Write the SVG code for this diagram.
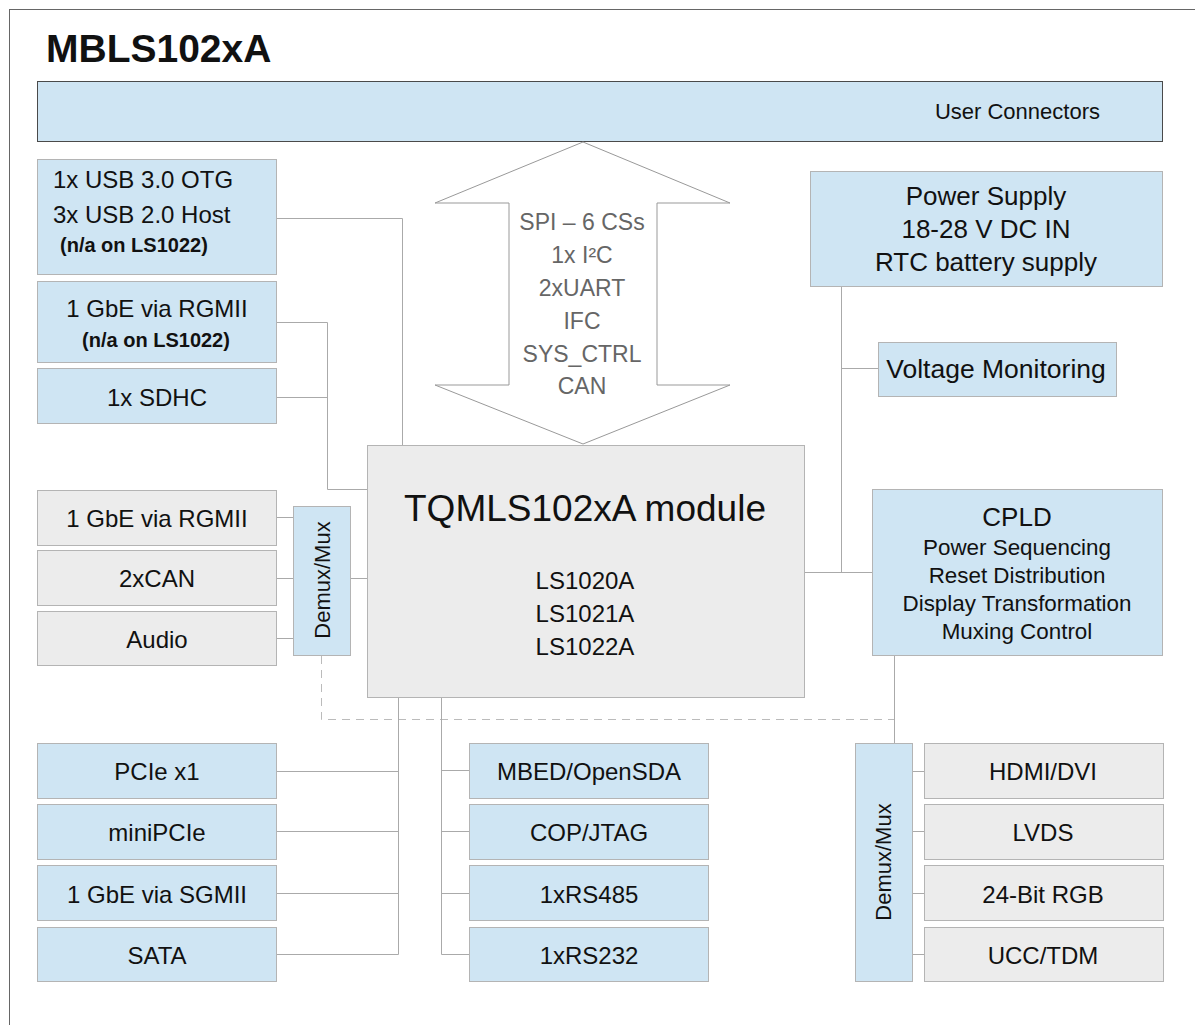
<svg xmlns="http://www.w3.org/2000/svg" width="1195" height="1025" viewBox="0 0 1195 1025">
<style>
.blue{fill:#cfe5f3;stroke:#b4b4b4;stroke-width:1}
.gray{fill:#ececec;stroke:#b4b4b4;stroke-width:1}
.t{font-family:"Liberation Sans",Arial,sans-serif;font-size:24px;fill:#111;text-anchor:middle}
.ln{fill:none;stroke:#aaa;stroke-width:1}
.dash{fill:none;stroke:#bbb;stroke-width:1;stroke-dasharray:8,6}
</style>
<rect x="9.5" y="9.5" width="1200" height="1040" fill="#fff" stroke="#666" stroke-width="1"/>
<text x="46" y="62" style="font-family:'Liberation Sans',Arial,sans-serif;font-size:39px;font-weight:bold;fill:#111">MBLS102xA</text>

<g id="connectors">
<path class="ln" d="M277,218.5 H402.5 V445"/>
<path class="ln" d="M277,322.5 H327.5 V489.5 H367"/>
<path class="ln" d="M277,397.5 H327.5"/>
<path class="ln" d="M277,517.5 H293 M277,578.5 H293 M277,638.5 H293 M350,578.5 H367"/>
<path class="dash" d="M321.5,656 V719.5 H894.5"/>
<path class="ln" d="M804,572.5 H872"/>
<path class="ln" d="M841.5,286 V572.5 M841.5,368.5 H878"/>
<path class="ln" d="M894.5,655 V743"/>
<path class="ln" d="M912,771.5 H924 M912,831.5 H924 M912,893.5 H924 M912,954.5 H924"/>
<path class="ln" d="M398.5,698 V954.5 M277,771.5 H398.5 M277,831.5 H398.5 M277,893.5 H398.5 M277,954.5 H398.5"/>
<path class="ln" d="M441.5,698 V954.5 H469 M441.5,770.5 H469 M441.5,831.5 H469 M441.5,893.5 H469"/>
</g>

<g id="user-connectors">
<rect x="37.5" y="81.5" width="1125" height="60" fill="#cfe5f3" stroke="#4a4a4a"/>
<text class="t" x="1100" y="119" style="text-anchor:end;font-size:22px">User Connectors</text>
</g>

<g id="bus-arrow">
<polygon points="583,142 730,203 657,203 657,385 730,385 583,444 435,385 509,385 509,203 435,203" fill="#fff" stroke="#999"/>
<g class="t" style="fill:#666;font-size:23px">
<text x="582" y="230">SPI – 6 CSs</text>
<text x="582" y="263">1x I²C</text>
<text x="582" y="296">2xUART</text>
<text x="582" y="329">IFC</text>
<text x="582" y="362">SYS_CTRL</text>
<text x="582" y="394">CAN</text>
</g>
</g>

<g id="usb">
<rect class="blue" x="37.5" y="159.5" width="239" height="115"/>
<text class="t" x="53" y="188" style="text-anchor:start">1x USB 3.0 OTG</text>
<text class="t" x="53" y="223" style="text-anchor:start">3x USB 2.0 Host</text>
<text class="t" x="60" y="252" style="text-anchor:start;font-size:20px;font-weight:bold">(n/a on LS1022)</text>
</g>
<g id="rgmii1">
<rect class="blue" x="37.5" y="281.5" width="239" height="81"/>
<text class="t" x="157" y="317">1 GbE via RGMII</text>
<text class="t" x="156" y="347" style="font-size:20px;font-weight:bold">(n/a on LS1022)</text>
</g>
<g id="sdhc">
<rect class="blue" x="37.5" y="368.5" width="239" height="55"/>
<text class="t" x="157" y="406">1x SDHC</text>
</g>

<g id="rgmii2">
<rect class="gray" x="37.5" y="490.5" width="239" height="55"/>
<text class="t" x="157" y="527">1 GbE via RGMII</text>
</g>
<g id="can">
<rect class="gray" x="37.5" y="550.5" width="239" height="55"/>
<text class="t" x="157" y="587">2xCAN</text>
</g>
<g id="audio">
<rect class="gray" x="37.5" y="611.5" width="239" height="54"/>
<text class="t" x="157" y="648">Audio</text>
</g>
<g id="demux-left">
<rect class="blue" x="293.5" y="506.5" width="57" height="149"/>
<text class="t" x="322" y="580" transform="rotate(-90 322 580)" dy="8" style="font-size:22px">Demux/Mux</text>
</g>

<g id="module">
<rect class="gray" x="367.5" y="445.5" width="437" height="252"/>
<text class="t" x="585" y="521" style="font-size:37px">TQMLS102xA module</text>
<text class="t" x="585" y="589">LS1020A</text>
<text class="t" x="585" y="622">LS1021A</text>
<text class="t" x="585" y="655">LS1022A</text>
</g>

<g id="power">
<rect class="blue" x="810.5" y="171.5" width="352" height="115"/>
<text class="t" x="986" y="205" style="font-size:26px">Power Supply</text>
<text class="t" x="986" y="238" style="font-size:26px">18-28 V DC IN</text>
<text class="t" x="986" y="271" style="font-size:26px">RTC battery supply</text>
</g>
<g id="voltage">
<rect class="blue" x="878.5" y="342.5" width="238" height="54"/>
<text class="t" x="996" y="378" style="font-size:26.5px">Voltage Monitoring</text>
</g>
<g id="cpld">
<rect class="blue" x="872.5" y="489.5" width="290" height="166"/>
<text class="t" x="1017" y="526" style="font-size:26px">CPLD</text>
<g class="t" style="font-size:22.4px">
<text x="1017" y="555">Power Sequencing</text>
<text x="1017" y="583">Reset Distribution</text>
<text x="1017" y="611">Display Transformation</text>
<text x="1017" y="639">Muxing Control</text>
</g>
</g>

<g id="pcie">
<rect class="blue" x="37.5" y="743.5" width="239" height="55"/>
<text class="t" x="157" y="780">PCIe x1</text>
</g>
<g id="minipcie">
<rect class="blue" x="37.5" y="804.5" width="239" height="55"/>
<text class="t" x="157" y="841">miniPCIe</text>
</g>
<g id="sgmii">
<rect class="blue" x="37.5" y="865.5" width="239" height="55"/>
<text class="t" x="157" y="903">1 GbE via SGMII</text>
</g>
<g id="sata">
<rect class="blue" x="37.5" y="927.5" width="239" height="54"/>
<text class="t" x="157" y="964">SATA</text>
</g>

<g id="mbed">
<rect class="blue" x="469.5" y="743.5" width="239" height="55"/>
<text class="t" x="589" y="780">MBED/OpenSDA</text>
</g>
<g id="cop">
<rect class="blue" x="469.5" y="804.5" width="239" height="55"/>
<text class="t" x="589" y="841">COP/JTAG</text>
</g>
<g id="rs485">
<rect class="blue" x="469.5" y="865.5" width="239" height="55"/>
<text class="t" x="589" y="903">1xRS485</text>
</g>
<g id="rs232">
<rect class="blue" x="469.5" y="927.5" width="239" height="54"/>
<text class="t" x="589" y="964">1xRS232</text>
</g>

<g id="demux-right">
<rect class="blue" x="855.5" y="743.5" width="57" height="238"/>
<text class="t" x="883" y="862" transform="rotate(-90 883 862)" dy="8" style="font-size:22px">Demux/Mux</text>
</g>
<g id="hdmi">
<rect class="gray" x="924.5" y="743.5" width="239" height="55"/>
<text class="t" x="1043" y="780">HDMI/DVI</text>
</g>
<g id="lvds">
<rect class="gray" x="924.5" y="804.5" width="239" height="55"/>
<text class="t" x="1043" y="841">LVDS</text>
</g>
<g id="rgb">
<rect class="gray" x="924.5" y="865.5" width="239" height="55"/>
<text class="t" x="1043" y="903">24-Bit RGB</text>
</g>
<g id="ucc">
<rect class="gray" x="924.5" y="927.5" width="239" height="54"/>
<text class="t" x="1043" y="964">UCC/TDM</text>
</g>
</svg>
